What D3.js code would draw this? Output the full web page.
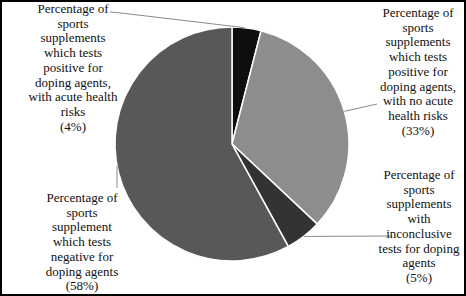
<!DOCTYPE html>
<html>
<head>
<meta charset="utf-8">
<script src="https://cdn.jsdelivr.net/npm/d3@7"></script>
<style>
  body { margin: 0; background: #fff; }
  text { font-family: "Liberation Serif", "Times New Roman", serif; font-size: 13px; fill: #111; }
</style>
</head>
<body>
<svg class="pie" width="466" height="296"></svg>
<script>

// Slice data, clockwise from the top.
var names = ["acute", "noAcute", "inconclusive", "negative"];
var values = [4, 33, 5, 58];
var colours = ["#0e0e0e", "#8d8d8d", "#333333", "#585858"];

// Label lines for every slice.
var labels = [
  ["Percentage of", "sports", "supplements", "which tests", "positive for",
   "doping agents,", "with acute health", "risks", "(4%)"],
  ["Percentage of", "sports", "supplements", "which tests", "positive for",
   "doping agents,", "with no acute", "health risks", "(33%)"],
  ["Percentage of", "sports", "supplements", "with", "inconclusive",
   "tests for doping", "agents", "(5%)"],
  ["Percentage of", "sports", "supplement", "which tests", "negative for",
   "doping agents", "(58%)"]
];

function drawPie() {

  // Determine svg attributes.
  var width = 466,
      height = 296,
      cx = 232,
      cy = 144,
      radius = 117,
      lineHeight = 14.7;

  var svg = d3.select(".pie");

  // Frame round the picture.
  svg.append("rect")
      .attr("x", 1)
      .attr("y", 1)
      .attr("width", width - 2)
      .attr("height", height - 2)
      .attr("fill", "none")
      .attr("stroke", "#000")
      .attr("stroke-width", 2);

  var pie = d3.pie()
      .sort(null)
      .value(function(d) { return d; });

  var arc = d3.arc()
      .innerRadius(0)
      .outerRadius(radius);

  var arcs = pie(values);

  var chart = svg.append("g")
      .attr("transform", "translate(" + cx + "," + cy + ")");

  // Draw slices.
  chart.selectAll("path")
      .data(arcs)
      .enter()
    .append("path")
      .attr("d", arc)
      .attr("fill", function(d, i) { return colours[i]; })
      .attr("stroke", "#fff")
      .attr("stroke-width", 1.5);

  // Point on the rim of the pie at a given angle.
  function rim(angle) {
    return [cx + radius * Math.sin(angle), cy - radius * Math.cos(angle)];
  }

  function mid(d) { return (d.startAngle + d.endAngle) / 2; }

  // Where each label sits: centre x and first baseline.
  var labelPos = [[73, 13], [418, 17], [419, 179], [82, 202]];

  // Leader lines from the labels to the slices.
  var leaders = [
    [[110, 12], [121, 13], rim(mid(arcs[0]) - 0.02)],
    [[377, 104], rim(mid(arcs[1]))],
    [[392, 236], rim(mid(arcs[2]))],
    [[117, 188], [117, cy + Math.sqrt(radius * radius - (cx - 117) * (cx - 117))]]
  ];

  svg.selectAll(".leader")
      .data(leaders)
      .enter()
    .append("path")
      .attr("class", "leader")
      .attr("d", d3.line())
      .attr("fill", "none")
      .attr("stroke", "#8a8a8a")
      .attr("stroke-width", 1);

  // Draw labels.
  var label = svg.selectAll(".label")
      .data(labels)
      .enter()
    .append("text")
      .attr("class", "label")
      .attr("text-anchor", "middle");

  label.selectAll("tspan")
      .data(function(d, i) {
        return d.map(function(line) { return {line: line, pos: labelPos[i]}; });
      })
      .enter()
    .append("tspan")
      .attr("x", function(d) { return d.pos[0]; })
      .attr("y", function(d, j) { return d.pos[1] + j * lineHeight; })
      .text(function(d) { return d.line; });
}

drawPie();
</script>
</body>
</html>
